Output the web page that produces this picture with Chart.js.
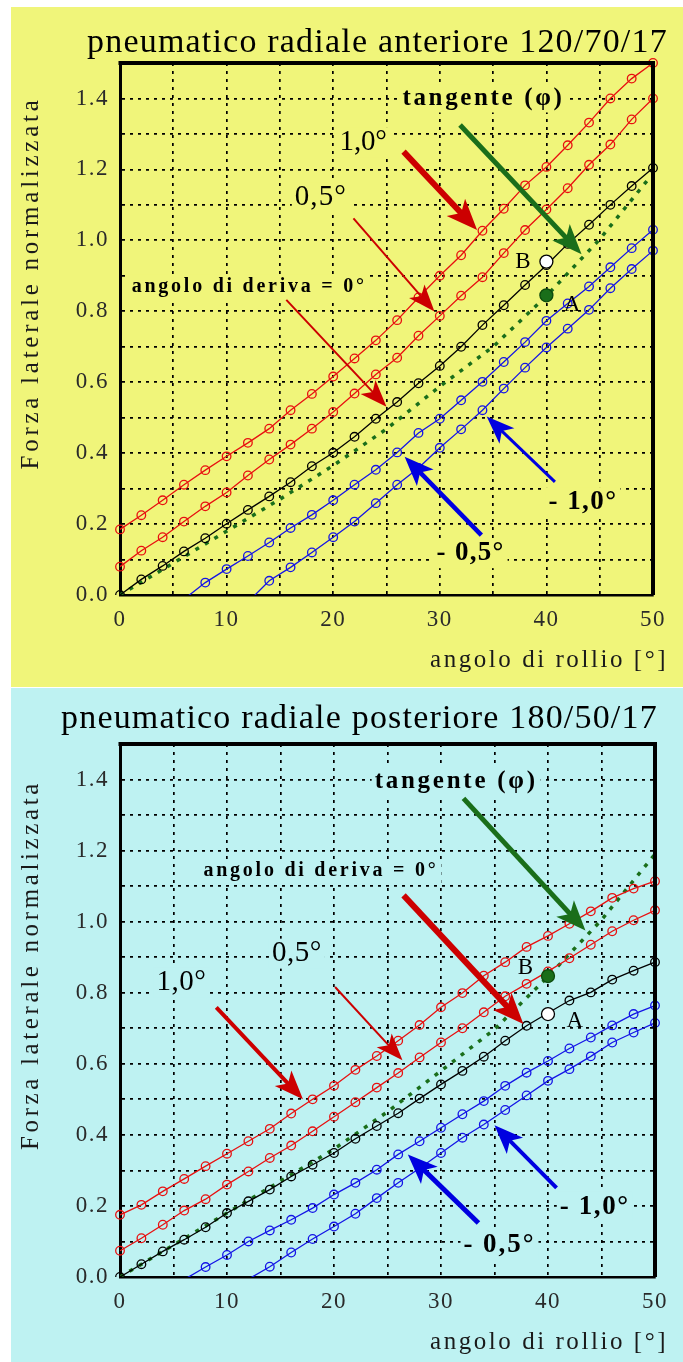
<!DOCTYPE html>
<html>
<head>
<meta charset="utf-8">
<script src="https://cdn.jsdelivr.net/npm/chart.js@4.4.1/dist/chart.umd.min.js"></script>
<style>
  body { margin: 0; background: #fff; width: 683px; height: 1362px; position: relative; overflow: hidden; }
  .pan { position: absolute; left: 11px; width: 672px; }
  #panA { top: 7px; height: 680px; background: #f0f57a; }
  #panP { top: 688px; height: 674px; background: #bef2f2; }
  canvas { position: absolute; left: 0; }
  #cA { top: 0; }
  #cP { top: 688px; }
</style>
</head>
<body>
<div class="pan" id="panA"></div>
<div class="pan" id="panP"></div>
<canvas id="cA" width="683" height="687"></canvas>
<canvas id="cP" width="683" height="674"></canvas>
<script>
// angolo di rollio [°] - punti ogni 2 gradi
const rollio = [0, 2, 4, 6, 8, 10, 12, 14, 16, 18, 20, 22, 24, 26, 28, 30, 32, 34, 36, 38, 40, 42, 44, 46, 48, 50];

// anteriore 120/70/17 - forza laterale normalizzata per angolo di deriva
const antDeriva10 = [0.185, 0.225, 0.267, 0.311, 0.352, 0.391, 0.429, 0.469, 0.521, 0.567, 0.616, 0.667, 0.718, 0.775, 0.839, 0.900, 0.958, 1.027, 1.089, 1.155, 1.207, 1.268, 1.332, 1.400, 1.456, 1.500];
const antDeriva05 = [0.080, 0.125, 0.163, 0.207, 0.250, 0.289, 0.337, 0.382, 0.424, 0.469, 0.516, 0.568, 0.622, 0.669, 0.731, 0.787, 0.844, 0.896, 0.964, 1.029, 1.087, 1.147, 1.213, 1.270, 1.341, 1.400];
const antDeriva0 = [0.000, 0.044, 0.082, 0.123, 0.160, 0.201, 0.240, 0.278, 0.318, 0.363, 0.401, 0.446, 0.497, 0.544, 0.597, 0.646, 0.700, 0.761, 0.817, 0.874, 0.930, 0.990, 1.044, 1.100, 1.153, 1.204];
const antDerivaM05 = [null, null, null, -0.012, 0.035, 0.073, 0.110, 0.148, 0.189, 0.226, 0.267, 0.311, 0.353, 0.402, 0.457, 0.497, 0.549, 0.601, 0.657, 0.713, 0.773, 0.822, 0.870, 0.924, 0.978, 1.030];
const antDerivaM10 = [null, null, null, null, null, null, -0.020, 0.040, 0.078, 0.120, 0.163, 0.207, 0.259, 0.311, 0.358, 0.415, 0.467, 0.521, 0.582, 0.641, 0.698, 0.751, 0.804, 0.865, 0.919, 0.971];
const antTanX = [0, 5, 10, 15, 20, 25, 30, 35, 40, 45, 49.5];
const antTan = [0, 0.090, 0.180, 0.270, 0.365, 0.468, 0.588, 0.700, 0.843, 1.003, 1.170];
const antPuntoB = [40, 0.940];
const antPuntoA = [40, 0.845];

// posteriore 180/50/17
const postDeriva10 = [0.175, 0.203, 0.241, 0.276, 0.312, 0.347, 0.382, 0.417, 0.460, 0.500, 0.538, 0.583, 0.622, 0.665, 0.709, 0.759, 0.799, 0.848, 0.886, 0.929, 0.960, 0.994, 1.029, 1.067, 1.093, 1.114];
const postDeriva05 = [0.074, 0.109, 0.147, 0.187, 0.219, 0.260, 0.297, 0.335, 0.370, 0.410, 0.451, 0.492, 0.533, 0.574, 0.618, 0.660, 0.700, 0.745, 0.790, 0.825, 0.860, 0.897, 0.935, 0.973, 1.004, 1.032];
const postDeriva0 = [0.000, 0.036, 0.072, 0.105, 0.140, 0.180, 0.213, 0.246, 0.283, 0.316, 0.349, 0.389, 0.425, 0.461, 0.502, 0.542, 0.580, 0.620, 0.665, 0.707, 0.743, 0.778, 0.801, 0.837, 0.862, 0.886];
const postDerivaM05 = [null, null, null, -0.007, 0.028, 0.062, 0.100, 0.131, 0.161, 0.194, 0.232, 0.265, 0.302, 0.345, 0.382, 0.420, 0.458, 0.495, 0.538, 0.575, 0.608, 0.643, 0.674, 0.708, 0.740, 0.764];
const postDerivaM10 = [null, null, null, null, null, null, -0.006, 0.029, 0.069, 0.107, 0.142, 0.178, 0.222, 0.265, 0.306, 0.349, 0.392, 0.429, 0.470, 0.511, 0.552, 0.585, 0.621, 0.660, 0.688, 0.715];
const postTanX = [0, 5, 10, 15, 20, 25, 30, 35, 40, 45, 50];
const postTan = [0, 0.090, 0.180, 0.270, 0.360, 0.465, 0.580, 0.697, 0.845, 1.005, 1.190];
const postPuntoB = [40, 0.847];
const postPuntoA = [40, 0.740];

// assi
const xTicks = [0, 10, 20, 30, 40, 50];
const yTicks = ['0.0', '0.2', '0.4', '0.6', '0.8', '1.0', '1.2', '1.4'];

const SERIF = "'Liberation Serif', 'DejaVu Serif', serif";
const ROSSO = '#e81010', BLU = '#1414e6', VERDE = '#1a6e1a';

function pts(xs, ys) {
    return xs.map((x, i) => ({ x: x, y: ys[i] })).filter(p => p.y !== null);
}

function curva(ys, col) {
    return {
        data: pts(rollio, ys), borderColor: col, borderWidth: 1.3, tension: 0, order: 5,
        pointStyle: 'circle', pointRadius: c => (c.raw && c.raw.y < 0 ? 0 : 4.3),
        pointBorderWidth: 1.3, pointBorderColor: col, pointBackgroundColor: 'rgba(0,0,0,0)',
        clip: { left: 6, right: 6, top: 6, bottom: 0 }
    };
}

function punto(p, fill, bordo) {
    return {
        data: [{ x: p[0], y: p[1] }], showLine: false, order: 0,
        pointRadius: 6.5, pointBorderWidth: 1.3, pointBackgroundColor: fill, pointBorderColor: bordo
    };
}

// testo con spaziatura adattata alla larghezza del riferimento
function scritta(ctx, t, x0, yy, w, font) {
    ctx.font = font;
    ctx.letterSpacing = '0px';
    const m = ctx.measureText(t).width;
    ctx.letterSpacing = ((w - m) / [...t].length).toFixed(2) + 'px';
    ctx.textAlign = 'left';
    ctx.fillText(t, x0, yy);
}

function freccia(ctx, x1, y1, x2, y2, col, lw) {
    const ang = Math.atan2(y2 - y1, x2 - x1), c = Math.cos(ang), s = Math.sin(ang);
    const hl = 25 + lw, hw = 9 + lw * 0.6;
    ctx.strokeStyle = col; ctx.fillStyle = col; ctx.lineWidth = lw; ctx.lineCap = 'butt';
    ctx.beginPath();
    ctx.moveTo(x1, y1);
    ctx.lineTo(x2 - c * hl * 0.7, y2 - s * hl * 0.7);
    ctx.stroke();
    const bx = x2 - c * hl, by = y2 - s * hl;
    ctx.beginPath();
    ctx.moveTo(x2, y2);
    ctx.lineTo(bx - s * hw, by + c * hw);
    ctx.lineTo(x2 - c * hl * 0.75, y2 - s * hl * 0.75);
    ctx.lineTo(bx + s * hw, by - c * hw);
    ctx.closePath();
    ctx.fill();
}

const tavola = {
    id: 'tavola',
    beforeDraw(chart) { chart.ctx.letterSpacing = '1.5px'; },
    beforeDatasetsDraw(chart, args, o) {
        const { ctx, scales: { x, y } } = chart;
        ctx.save();
        ctx.textBaseline = 'middle';
        o.labels.forEach(l => {
            const px = x.getPixelForValue(l.x), py = y.getPixelForValue(l.y);
            ctx.fillStyle = o.bg;
            ctx.fillRect(px - 3, py - l.h / 2, l.w + 6, l.h);
            ctx.fillStyle = '#000';
            scritta(ctx, l.t, px, py, l.w, l.font);
        });
        ctx.restore();
    },
    afterDatasetsDraw(chart, args, o) {
        const { ctx, chartArea: a, scales: { x, y } } = chart;
        ctx.save();
        ctx.strokeStyle = '#000';
        ctx.lineWidth = 4;
        ctx.beginPath();
        ctx.moveTo(a.left - 1.5, a.top);
        ctx.lineTo(a.right, a.top);
        ctx.lineTo(a.right, a.bottom);
        ctx.stroke();

        o.arrows.forEach(f => freccia(ctx,
            x.getPixelForValue(f.da[0]), y.getPixelForValue(f.da[1]),
            x.getPixelForValue(f.a[0]), y.getPixelForValue(f.a[1]), f.col, f.lw));

        ctx.textBaseline = 'middle';
        ctx.fillStyle = '#000';
        o.lettere.forEach(l => {
            ctx.font = '23px ' + SERIF;
            ctx.letterSpacing = '0px';
            ctx.textAlign = 'center';
            ctx.fillText(l.t, x.getPixelForValue(l.x), y.getPixelForValue(l.y));
        });

        // titolo e titoli degli assi
        ctx.fillStyle = '#000';
        scritta(ctx, o.titolo, o.tx, o.ty, o.tw, '34px ' + SERIF);
        ctx.fillStyle = '#1a1a1a';
        scritta(ctx, 'angolo di rollio [°]', 430, o.xy, 238, '25px ' + SERIF);
        ctx.translate(31, o.yc);
        ctx.rotate(-Math.PI / 2);
        scritta(ctx, 'Forza laterale normalizzata', -o.yl / 2, 0, o.yl, '25px ' + SERIF);
        ctx.restore();
    },
    afterDraw(chart) { chart.ctx.letterSpacing = '0px'; }
};

function disegna(id, serie, tanX, tan, pB, pA, fillB, fillA, note, pad) {
    const tickFont = { family: SERIF, size: 23 };
    new Chart(document.getElementById(id), {
        type: 'line',
        data: {
            datasets: [
                { data: pts(tanX, tan), borderColor: VERDE, borderWidth: 3.5, borderDash: [4, 7], pointRadius: 0, order: 10 },
                curva(serie[0], ROSSO), curva(serie[1], ROSSO), curva(serie[2], '#000'),
                curva(serie[3], BLU), curva(serie[4], BLU),
                punto(pB, fillB, fillB === '#fff' ? '#000' : '#0d4a0d'),
                punto(pA, fillA, fillA === '#fff' ? '#000' : '#0d4a0d')
            ]
        },
        options: {
            responsive: false, animation: false,
            layout: { padding: pad },
            plugins: { legend: { display: false }, tooltip: { enabled: false }, tavola: note },
            scales: {
                x: {
                    type: 'linear', min: 0, max: 50,
                    ticks: { stepSize: 5, autoSkip: false, maxRotation: 0, padding: 11, font: tickFont, color: '#2a2a2a',
                        callback: v => (xTicks.includes(v) ? String(v) : '') },
                    grid: { color: '#000', lineWidth: 1.7, drawTicks: false },
                    border: { color: '#000', width: 2.5, dash: [3, 5] },
                    afterFit: s => { s.height = 40; }
                },
                y: {
                    min: 0, max: 1.5,
                    ticks: { stepSize: 0.1, autoSkip: false, padding: 11, font: tickFont, color: '#2a2a2a',
                        callback: v => (yTicks.includes(v.toFixed(1)) ? v.toFixed(1) : '') },
                    grid: { color: '#000', lineWidth: 1.7, drawTicks: false },
                    border: { color: '#000', width: 3, dash: [3, 5] },
                    afterFit: s => { s.width = 120; }
                }
            }
        },
        plugins: [tavola]
    });
}

const bold = n => 'bold ' + n + 'px ' + SERIF;
const norm = n => n + 'px ' + SERIF;

disegna('cA', [antDeriva10, antDeriva05, antDeriva0, antDerivaM05, antDerivaM10], antTanX, antTan,
    antPuntoB, antPuntoA, '#fff', VERDE, {
        bg: '#f0f57a',
        titolo: 'pneumatico radiale anteriore 120/70/17', tx: 87, ty: 43, tw: 581,
        xy: 660, yc: 283, yl: 373,
        labels: [
            { t: 'tangente (φ)', x: 26.5, y: 1.40, w: 162, h: 28, font: bold(25) },
            { t: '1,0°', x: 20.6, y: 1.277, w: 47, h: 30, font: norm(29) },
            { t: '0,5°', x: 16.4, y: 1.122, w: 52, h: 30, font: norm(29) },
            { t: 'angolo di deriva = 0°', x: 1.1, y: 0.870, w: 235, h: 24, font: bold(20) },
            { t: '- 0,5°', x: 29.7, y: 0.118, w: 68, h: 30, font: bold(27) },
            { t: '- 1,0°', x: 40.2, y: 0.262, w: 69, h: 30, font: bold(27) }
        ],
        arrows: [
            { da: [31.9, 1.325], a: [43.3, 0.961], col: VERDE, lw: 5 },
            { da: [26.6, 1.250], a: [33.5, 1.029], col: '#cc0000', lw: 6 },
            { da: [21.9, 1.062], a: [29.5, 0.799], col: '#cc0000', lw: 2 },
            { da: [15.6, 0.832], a: [25.0, 0.531], col: '#cc0000', lw: 2 },
            { da: [33.9, 0.169], a: [26.7, 0.390], col: '#0000e0', lw: 4.5 },
            { da: [40.8, 0.319], a: [34.4, 0.503], col: '#0000e0', lw: 3 }
        ],
        lettere: [{ t: 'B', x: 37.8, y: 0.939 }, { t: 'A', x: 42.4, y: 0.817 }]
    }, { left: 0, right: 30, top: 63, bottom: 52 });

disegna('cP', [postDeriva10, postDeriva05, postDeriva0, postDerivaM05, postDerivaM10], postTanX, postTan,
    postPuntoB, postPuntoA, VERDE, '#fff', {
        bg: '#bef2f2',
        titolo: 'pneumatico radiale posteriore 180/50/17', tx: 61, ty: 31, tw: 597,
        xy: 654, yc: 277, yl: 370,
        labels: [
            { t: 'tangente (φ)', x: 23.8, y: 1.395, w: 163, h: 28, font: bold(25) },
            { t: 'angolo di deriva = 0°', x: 7.8, y: 1.142, w: 235, h: 24, font: bold(20) },
            { t: '0,5°', x: 14.2, y: 0.910, w: 50, h: 30, font: norm(29) },
            { t: '1,0°', x: 3.4, y: 0.830, w: 50, h: 30, font: norm(29) },
            { t: '- 0,5°', x: 32.1, y: 0.090, w: 72, h: 30, font: bold(27) },
            { t: '- 1,0°', x: 41.1, y: 0.198, w: 70, h: 30, font: bold(27) }
        ],
        arrows: [
            { da: [32.1, 1.347], a: [43.5, 0.975], col: VERDE, lw: 5 },
            { da: [26.5, 1.074], a: [37.7, 0.712], col: '#cc0000', lw: 6 },
            { da: [20.1, 0.816], a: [26.4, 0.610], col: '#cc0000', lw: 2 },
            { da: [9.0, 0.759], a: [17.1, 0.500], col: '#cc0000', lw: 4 },
            { da: [33.5, 0.152], a: [26.9, 0.345], col: '#0000e0', lw: 5 },
            { da: [40.8, 0.251], a: [35.0, 0.427], col: '#0000e0', lw: 4 }
        ],
        lettere: [{ t: 'B', x: 37.9, y: 0.870 }, { t: 'A', x: 42.5, y: 0.721 }]
    }, { left: 0, right: 28, top: 56, bottom: 45 });
</script>
</body>
</html>
